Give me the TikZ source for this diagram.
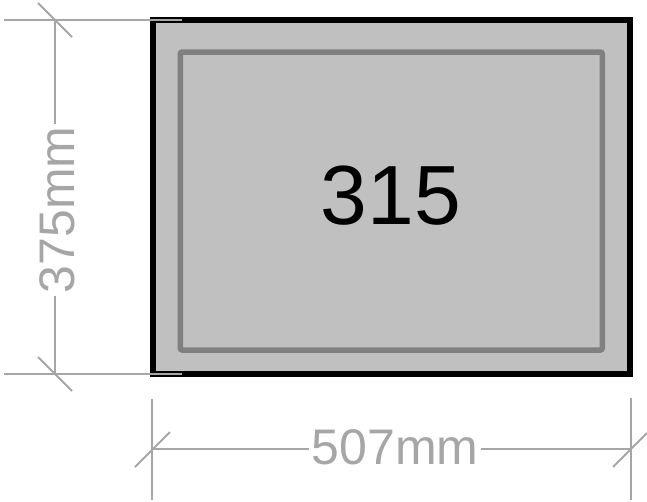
\documentclass[tikz,border=0pt]{standalone}
\usepackage{fontspec}
\setmainfont{Liberation Sans}
\definecolor{dimgray}{HTML}{A6A6A6}
\definecolor{boxfill}{HTML}{C0C0C0}
\definecolor{innerline}{HTML}{808080}
\begin{document}
\begin{tikzpicture}[x=1pt,y=-1pt,
  dimline/.style={draw=dimgray,line width=1.8pt},
  dimtext/.style={text=dimgray,font=\fontsize{50}{50}\selectfont,inner sep=2pt},
  outerbox/.style={draw=black,fill=boxfill,line width=5.5pt,minimum width=477pt,minimum height=354pt,inner sep=0pt},
  innerbox/.style={draw=innerline,line width=5.5pt,rounded corners=2pt,minimum width=422pt,minimum height=298pt,inner sep=0pt},
  bigtext/.style={text=black,font=\fontsize{84}{84}\selectfont,inner sep=0pt}]
\useasboundingbox (0,0) rectangle (647,501);
% box
\node[outerbox] (outer) at (391.5,197) {};
\node[innerbox] (inner) at (391.25,201) {};
\node[bigtext] (label) at (391,196) {315};
% left dimension
\coordinate (ltA) at (4,20);
\coordinate (ltB) at (182,20);
\coordinate (lbA) at (4,374);
\coordinate (lbB) at (182,374);
\coordinate (vt) at (55,20);
\coordinate (vb) at (55,374);
\draw[dimline] (ltA) -- (ltB);
\draw[dimline] (lbA) -- (lbB);
\draw[dimline] (38,3) -- (72,37);
\draw[dimline] (38,357) -- (72,391);
\node[dimtext,rotate=90] (v375) at (57,210) {375mm};
\draw[dimline] (vt) -- (vt |- v375.east);
\draw[dimline] (vb |- v375.west) -- (vb);
% bottom dimension
\coordinate (bl) at (152,449);
\coordinate (br) at (631,449);
\draw[dimline] (152,399) -- (152,500);
\draw[dimline] (631,398) -- (631,500);
\draw[dimline] (135,467) -- (170,432);
\draw[dimline] (613,467) -- (647,433);
\node[dimtext] (h507) at (395,447) {507mm};
\draw[dimline] (bl) -- (bl -| h507.west);
\draw[dimline] (br -| h507.east) -- (br);
\end{tikzpicture}
\end{document}
